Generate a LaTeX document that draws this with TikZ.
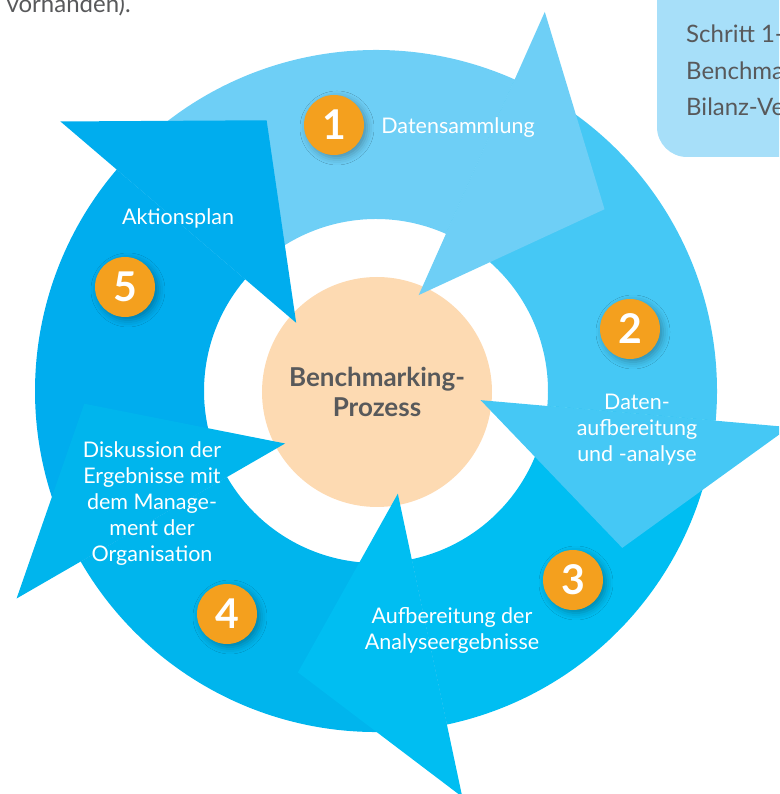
\documentclass[tikz,border=0pt]{standalone}
\usepackage{fontspec}
\setmainfont{Lato}
\usetikzlibrary{positioning,shadows.blur}
\definecolor{stepOne}{RGB}{110,207,246}
\definecolor{stepTwo}{RGB}{69,200,245}
\definecolor{stepThree}{RGB}{0,190,242}
\definecolor{stepFour}{RGB}{0,181,237}
\definecolor{stepFive}{RGB}{0,173,238}
\definecolor{numOrange}{RGB}{244,160,30}
\definecolor{peach}{RGB}{253,218,178}
\definecolor{infoBlue}{RGB}{167,223,249}
\definecolor{textGray}{RGB}{88,89,91}
\tikzset{%
  % Specifications for style of nodes:
       number/.style = {circle, fill=numOrange, minimum size=60pt,
                        inner sep=0pt, text=white,
                        font=\bfseries\fontsize{41}{41}\selectfont,
                        blur shadow={shadow xshift=3pt, shadow yshift=-3pt,
                                     shadow blur radius=7pt, shadow opacity=30}},
    steplabel/.style = {text=white, align=center,
                        font=\fontsize{21.5}{26}\selectfont},
     graytext/.style = {text=textGray, font=\fontsize{24}{36.5}\selectfont},
       center/.style = {circle, fill=peach, minimum size=230pt, inner sep=0pt,
                        text=textGray, align=center,
                        font=\bfseries\fontsize{26}{30}\selectfont},
}
\begin{document}
\begin{tikzpicture}[x=1pt, y=1pt]
  \useasboundingbox (-376,-403) rectangle (403,391);
  \clip (-376,-403) rectangle (403,391);
  % Specification of the text above and the info box
  \node (prev) [graytext, anchor=base west] at (-373,378) {vorhanden).};
  \fill[infoBlue, rounded corners=30pt] (281,234) rectangle (560,460);
  \node (info) [graytext, anchor=north west, align=left, inner sep=0pt]
    at (310,366) {Schritt 1-\\Benchma\\Bilanz-Ve};
  % Specification of the centre
  \node (prozess) [center] at (1,-1) {Benchmarking-\\Prozess};
  % Ring bodies of the five steps
  \fill[stepOne] (139.5:341pt) arc[start angle=139.5, end angle=66, radius=341pt]
    -- (66:172pt) arc[start angle=66, end angle=139.5, radius=172pt] -- cycle;
  \fill[stepTwo] (66:341pt) arc[start angle=66, end angle=-5, radius=341pt]
    -- (-5:172pt) arc[start angle=-5, end angle=66, radius=172pt] -- cycle;
  \fill[stepThree] (-5:341pt) arc[start angle=-5, end angle=-78, radius=341pt]
    -- (-78:172pt) arc[start angle=-78, end angle=-5, radius=172pt] -- cycle;
  \fill[stepFour] (-78:341pt) arc[start angle=-78, end angle=-150, radius=341pt]
    -- (-150:172pt) arc[start angle=-150, end angle=-78, radius=172pt] -- cycle;
  \fill[stepFive] (-150:341pt) arc[start angle=-150, end angle=-220.5, radius=341pt]
    -- (-220.5:172pt) arc[start angle=-220.5, end angle=-150, radius=172pt] -- cycle;
  % Arrow heads of the five steps
  \fill[stepOne] (66:415pt) -- (38.5:292pt) -- (66:105pt) -- cycle;
  \fill[stepTwo] (-5:415pt) -- (-32.5:292pt) -- (-5:105pt) -- cycle;
  \fill[stepThree] (-78:415pt) -- (-105.5:292pt) -- (-78:105pt) -- cycle;
  \fill[stepFour] (-150:415pt) -- (-177.5:292pt) -- (-150:105pt) -- cycle;
  \fill[stepFive] (139.5:415pt) -- (112:292pt) -- (139.5:105pt) -- cycle;
  % Specification of numbers and labels
  \node (one)   [number] at (-42,266)  {1};
  \node (two)   [number] at (254,62)   {2};
  \node (three) [number] at (197,-189) {3};
  \node (four)  [number] at (-149,-223) {4};
  \node (five)  [number] at (-251,104) {5};
  \node (sammlung) [steplabel] at (82,263) {Datensammlung};
  \node (analyse)  [steplabel] at (261,-39) {Daten-\\aufbereitung\\und -analyse};
  \node (ergebnis) [steplabel] at (76,-239) {Aufbereitung der\\Analyseergebnisse};
  \node (diskuss)  [steplabel] at (-224,-113)
    {Diskussion der\\Ergebnisse mit\\dem Manage-\\ment der\\Organisation};
  \node (aktion)   [steplabel] at (-198,173) {Aktionsplan};
\end{tikzpicture}
\end{document}
